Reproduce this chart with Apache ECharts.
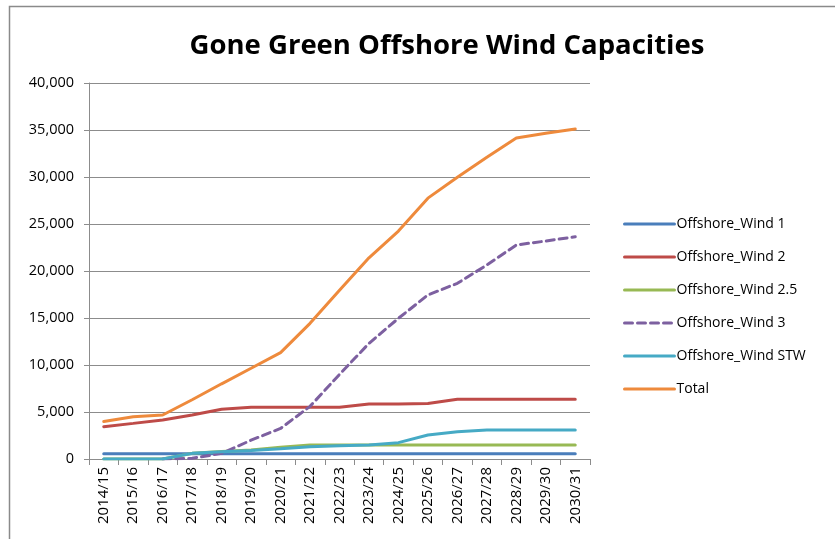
<!DOCTYPE html>
<html>
<head>
<meta charset="utf-8">
<script src="https://cdn.jsdelivr.net/npm/echarts@6/dist/echarts.min.js"></script>
<style>
  html, body { margin: 0; padding: 0; background: #fff; }
  #chart { width: 835px; height: 539px; }
</style>
</head>
<body>
<div id="chart"></div>
<script>
// Financial years on the category axis
const years = ['2014/15', '2015/16', '2016/17', '2017/18', '2018/19', '2019/20', '2020/21', '2021/22',
  '2022/23', '2023/24', '2024/25', '2025/26', '2026/27', '2027/28', '2028/29', '2029/30', '2030/31'];

// Installed capacity (MW) by offshore wind round
const wind1   = [550, 550, 550, 550, 550, 550, 550, 550, 550, 550, 550, 550, 550, 550, 550, 550, 550];
const wind2   = [3440, 3790, 4150, 4680, 5290, 5500, 5500, 5500, 5500, 5850, 5850, 5900, 6350, 6350, 6350, 6350, 6350];
const wind25  = [0, 0, 0, 600, 800, 960, 1250, 1490, 1490, 1490, 1490, 1490, 1490, 1490, 1490, 1490, 1490];
const wind3   = [null, null, 0, 70, 600, 2000, 3250, 5600, 9000, 12300, 14970, 17450, 18690, 20640, 22770, 23190, 23650];
const windSTW = [0, 0, 0, 600, 780, 900, 1100, 1310, 1420, 1490, 1740, 2550, 2900, 3090, 3090, 3090, 3090];
const total   = [3990, 4500, 4680, 6300, 8000, 9650, 11310, 14430, 17950, 21400, 24250, 27750, 29980, 32100, 34150, 34650, 35100];

const yTicks = { min: 0, max: 40000, interval: 5000 };

const fontFamily = '"Open Sans", "Noto Sans", sans-serif';

function lineSeries(name, data, color, dashed) {
  return {
    name: name,
    type: 'line',
    data: data,
    symbol: 'none',
    smooth: false,
    connectNulls: false,
    lineStyle: { color: color, width: 3, type: dashed ? [8, 5] : 'solid', cap: 'round' },
    itemStyle: { color: color },
    emphasis: { disabled: true }
  };
}

const chart = echarts.init(document.getElementById('chart'), null, { renderer: 'canvas' });
chart.setOption({
  animation: false,
  backgroundColor: '#ffffff',
  title: {
    text: 'Gone Green Offshore Wind Capacities',
    left: 442,
    top: 27,
    textAlign: 'center',
    textStyle: { fontFamily: fontFamily, fontWeight: 'bold', fontSize: 27.5, color: '#000' }
  },
  graphic: [{
    type: 'rect',
    shape: { x: 9.5, y: 6.5, width: 900, height: 600 },
    style: { fill: 'none', stroke: '#8a8a8a', lineWidth: 1.5 },
    silent: true
  }],
  legend: {
    orient: 'vertical',
    left: 618,
    top: 212,
    itemWidth: 50,
    itemHeight: 14,
    itemGap: 19,
    itemStyle: { opacity: 0 },
    lineStyle: { width: 3 },
    textStyle: { fontFamily: fontFamily, fontSize: 14, color: '#000', padding: [0, 0, 0, -3] },
    data: ['Offshore_Wind 1', 'Offshore_Wind 2', 'Offshore_Wind 2.5', 'Offshore_Wind 3', 'Offshore_Wind STW', 'Total']
  },
  grid: { left: 89, right: 245, top: 83, bottom: 80, containLabel: false },
  xAxis: {
    type: 'category',
    data: years,
    boundaryGap: true,
    axisLine: { lineStyle: { color: '#8c8c8c', width: 1 } },
    axisTick: { show: true, length: 6, lineStyle: { color: '#8c8c8c' }, alignWithLabel: false },
    axisLabel: { rotate: 90, fontFamily: fontFamily, fontSize: 15, color: '#000', margin: 8, interval: 0 },
    splitLine: { show: false }
  },
  yAxis: {
    type: 'value',
    min: yTicks.min,
    max: yTicks.max,
    interval: yTicks.interval,
    axisLine: { show: true, lineStyle: { color: '#8c8c8c', width: 1 } },
    axisTick: { show: true, length: 5, lineStyle: { color: '#8c8c8c' } },
    axisLabel: {
      fontFamily: fontFamily, fontSize: 14.5, color: '#000', margin: 15,
      formatter: v => v.toLocaleString('en-US')
    },
    splitLine: { show: true, lineStyle: { color: '#8c8c8c', width: 1 } }
  },
  series: [
    lineSeries('Offshore_Wind 1', wind1, '#4A7EBB', false),
    lineSeries('Offshore_Wind 2', wind2, '#BE4B48', false),
    lineSeries('Offshore_Wind 2.5', wind25, '#98B954', false),
    lineSeries('Offshore_Wind 3', wind3, '#7D60A0', true),
    lineSeries('Offshore_Wind STW', windSTW, '#46AAC5', false),
    lineSeries('Total', total, '#EE8A3C', false)
  ]
});
</script>
</body>
</html>
